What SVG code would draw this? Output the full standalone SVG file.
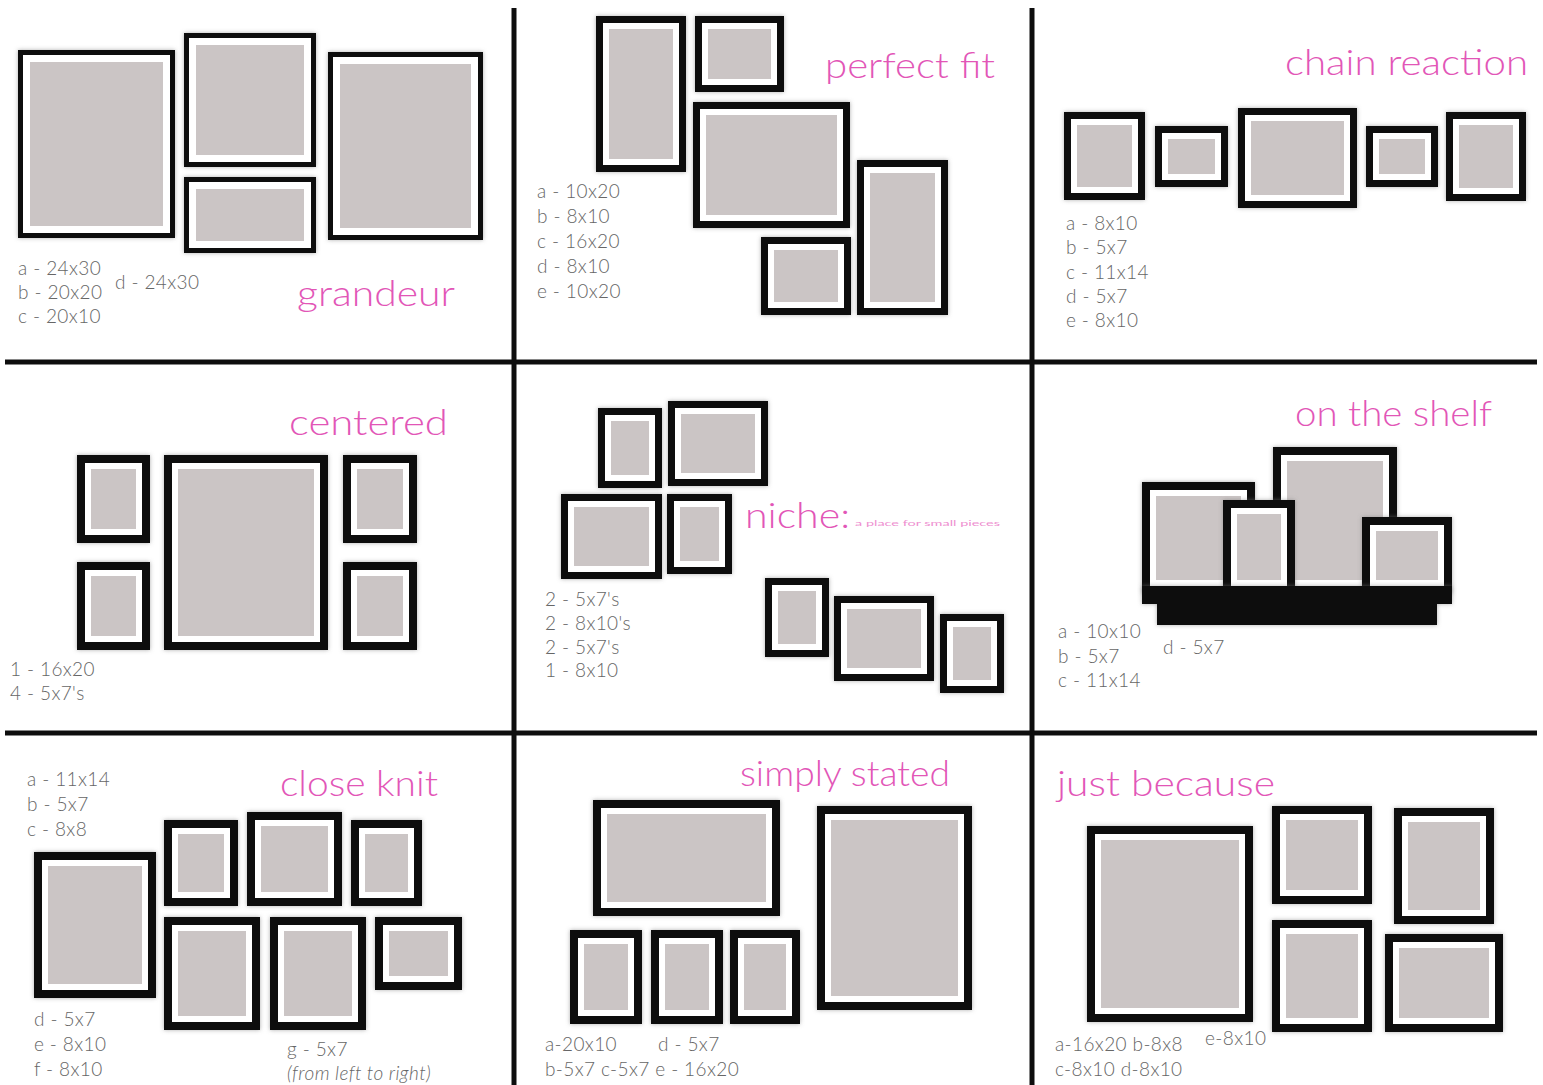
<svg xmlns="http://www.w3.org/2000/svg" width="1543" height="1085" viewBox="0 0 1543 1085">
<defs>
<filter id="sh" x="-10%" y="-10%" width="120%" height="120%"><feDropShadow dx="0" dy="0" stdDeviation="2" flood-color="#777" flood-opacity="0.6"/></filter>
<style>
.k{fill:#0e0e0e;filter:url(#sh)}
.w{fill:#fff}
.p{fill:#cbc5c5}
.ln{stroke:#0e0e0e;stroke-width:5}
.lb{font-family:Lato,"Open Sans",sans-serif;font-size:19px;font-weight:300;fill:#666;letter-spacing:0.4px}
.tt{font-family:Lato,"Open Sans",sans-serif;font-size:36px;font-weight:300;fill:#e256b7}
.sm{font-family:Lato,"Open Sans",sans-serif;font-size:8px;fill:#ee8fd0}
</style>
</defs>
<rect width="1543" height="1085" fill="#fff"/>
<g id="grid">
<line class="ln" x1="514" y1="8" x2="514" y2="1085"/>
<line class="ln" x1="1032" y1="8" x2="1032" y2="1085"/>
<line class="ln" x1="5" y1="362" x2="1537" y2="362"/>
<line class="ln" x1="5" y1="733" x2="1537" y2="733"/>
</g>
<g id="grandeur">
<rect class="k" x="18" y="50" width="157" height="188"/><rect class="w" x="23" y="55" width="147" height="178"/><rect class="p" x="30" y="62" width="133" height="164"/>
<rect class="k" x="184" y="33" width="132" height="134"/><rect class="w" x="189" y="38" width="122" height="124"/><rect class="p" x="196" y="45" width="108" height="110"/>
<rect class="k" x="184" y="177" width="132" height="76"/><rect class="w" x="189" y="182" width="122" height="66"/><rect class="p" x="196" y="189" width="108" height="52"/>
<rect class="k" x="328" y="52" width="155" height="188"/><rect class="w" x="333" y="57" width="145" height="178"/><rect class="p" x="340" y="64" width="131" height="164"/>
<text class="lb" x="18" y="275">a - 24x30</text>
<text class="lb" x="18" y="299">b - 20x20</text>
<text class="lb" x="18" y="323">c - 20x10</text>
<text class="lb" x="115" y="289">d - 24x30</text>
<text class="tt" x="297" y="306" textLength="158" lengthAdjust="spacingAndGlyphs">grandeur</text>
</g>
<g id="perfect-fit">
<rect class="k" x="596" y="16" width="90" height="156"/><rect class="w" x="603" y="23" width="76" height="142"/><rect class="p" x="609" y="29" width="64" height="130"/>
<rect class="k" x="695" y="16" width="89" height="76"/><rect class="w" x="702" y="23" width="75" height="62"/><rect class="p" x="708" y="29" width="63" height="50"/>
<rect class="k" x="693" y="102" width="157" height="126"/><rect class="w" x="700" y="109" width="143" height="112"/><rect class="p" x="706" y="115" width="131" height="100"/>
<rect class="k" x="761" y="237" width="90" height="78"/><rect class="w" x="768" y="244" width="76" height="64"/><rect class="p" x="774" y="250" width="64" height="52"/>
<rect class="k" x="857" y="160" width="91" height="155"/><rect class="w" x="864" y="167" width="77" height="141"/><rect class="p" x="870" y="173" width="65" height="129"/>
<text class="lb" x="537" y="198">a - 10x20</text>
<text class="lb" x="537" y="223">b - 8x10</text>
<text class="lb" x="537" y="248">c - 16x20</text>
<text class="lb" x="537" y="273">d - 8x10</text>
<text class="lb" x="537" y="298">e - 10x20</text>
<text class="tt" x="825" y="78" textLength="170" lengthAdjust="spacingAndGlyphs">perfect fit</text>
</g>
<g id="chain-reaction">
<rect class="k" x="1064" y="112" width="81" height="88"/><rect class="w" x="1071" y="119" width="67" height="74"/><rect class="p" x="1077" y="125" width="55" height="62"/>
<rect class="k" x="1155" y="126" width="73" height="61"/><rect class="w" x="1162" y="133" width="59" height="47"/><rect class="p" x="1168" y="139" width="47" height="35"/>
<rect class="k" x="1238" y="108" width="119" height="100"/><rect class="w" x="1245" y="115" width="105" height="86"/><rect class="p" x="1251" y="121" width="93" height="74"/>
<rect class="k" x="1366" y="126" width="72" height="61"/><rect class="w" x="1373" y="133" width="58" height="47"/><rect class="p" x="1379" y="139" width="46" height="35"/>
<rect class="k" x="1446" y="112" width="80" height="89"/><rect class="w" x="1453" y="119" width="66" height="75"/><rect class="p" x="1459" y="125" width="54" height="63"/>
<text class="lb" x="1066" y="230">a - 8x10</text>
<text class="lb" x="1066" y="254">b - 5x7</text>
<text class="lb" x="1066" y="279">c - 11x14</text>
<text class="lb" x="1066" y="303">d - 5x7</text>
<text class="lb" x="1066" y="327">e - 8x10</text>
<text class="tt" x="1285" y="75" textLength="243" lengthAdjust="spacingAndGlyphs">chain reaction</text>
</g>
<g id="centered">
<rect class="k" x="77" y="455" width="73" height="88"/><rect class="w" x="85" y="463" width="57" height="72"/><rect class="p" x="91" y="469" width="45" height="60"/>
<rect class="k" x="77" y="562" width="73" height="88"/><rect class="w" x="85" y="570" width="57" height="72"/><rect class="p" x="91" y="576" width="45" height="60"/>
<rect class="k" x="164" y="455" width="164" height="195"/><rect class="w" x="172" y="463" width="148" height="179"/><rect class="p" x="178" y="469" width="136" height="167"/>
<rect class="k" x="343" y="455" width="74" height="88"/><rect class="w" x="351" y="463" width="58" height="72"/><rect class="p" x="357" y="469" width="46" height="60"/>
<rect class="k" x="343" y="562" width="74" height="88"/><rect class="w" x="351" y="570" width="58" height="72"/><rect class="p" x="357" y="576" width="46" height="60"/>
<text class="lb" x="10" y="676">1 - 16x20</text>
<text class="lb" x="10" y="700">4 - 5x7's</text>
<text class="tt" x="289" y="435" textLength="159" lengthAdjust="spacingAndGlyphs">centered</text>
</g>
<g id="niche">
<rect class="k" x="598" y="408" width="64" height="80"/><rect class="w" x="605" y="415" width="50" height="66"/><rect class="p" x="611" y="421" width="38" height="54"/>
<rect class="k" x="668" y="401" width="100" height="85"/><rect class="w" x="675" y="408" width="86" height="71"/><rect class="p" x="681" y="414" width="74" height="59"/>
<rect class="k" x="561" y="494" width="101" height="85"/><rect class="w" x="568" y="501" width="87" height="71"/><rect class="p" x="574" y="507" width="75" height="59"/>
<rect class="k" x="667" y="494" width="65" height="80"/><rect class="w" x="674" y="501" width="51" height="66"/><rect class="p" x="680" y="507" width="39" height="54"/>
<rect class="k" x="765" y="578" width="64" height="79"/><rect class="w" x="772" y="585" width="50" height="65"/><rect class="p" x="778" y="591" width="38" height="53"/>
<rect class="k" x="834" y="596" width="100" height="85"/><rect class="w" x="841" y="603" width="86" height="71"/><rect class="p" x="847" y="609" width="74" height="59"/>
<rect class="k" x="940" y="614" width="64" height="79"/><rect class="w" x="947" y="621" width="50" height="65"/><rect class="p" x="953" y="627" width="38" height="53"/>
<text class="lb" x="545" y="606">2 - 5x7's</text>
<text class="lb" x="545" y="630">2 - 8x10's</text>
<text class="lb" x="545" y="654">2 - 5x7's</text>
<text class="lb" x="545" y="677">1 - 8x10</text>
<text class="tt" x="745" y="528" textLength="105" lengthAdjust="spacingAndGlyphs">niche:</text>
<text class="sm" x="855" y="526" textLength="145" lengthAdjust="spacingAndGlyphs">a place for small pieces</text>
</g>
<g id="on-the-shelf">
<rect class="k" x="1142" y="482" width="113" height="112"/><rect class="w" x="1150" y="490" width="97" height="96"/><rect class="p" x="1156" y="496" width="85" height="84"/>
<rect class="k" x="1273" y="447" width="124" height="147"/><rect class="w" x="1281" y="455" width="108" height="131"/><rect class="p" x="1287" y="461" width="96" height="119"/>
<rect class="k" x="1223" y="500" width="72" height="94"/><rect class="w" x="1231" y="508" width="56" height="78"/><rect class="p" x="1237" y="514" width="44" height="66"/>
<rect class="k" x="1362" y="517" width="90" height="77"/><rect class="w" x="1370" y="525" width="74" height="61"/><rect class="p" x="1376" y="531" width="62" height="49"/>
<path class="k" d="M1142,586 H1452 V604 H1437 V625 H1157 V604 H1142 Z"/>
<text class="lb" x="1058" y="638">a - 10x10</text>
<text class="lb" x="1058" y="663">b - 5x7</text>
<text class="lb" x="1058" y="687">c - 11x14</text>
<text class="lb" x="1163" y="654">d - 5x7</text>
<text class="tt" x="1295" y="426" textLength="197" lengthAdjust="spacingAndGlyphs">on the shelf</text>
</g>
<g id="close-knit">
<rect class="k" x="34" y="852" width="122" height="146"/><rect class="w" x="42" y="860" width="106" height="130"/><rect class="p" x="48" y="866" width="94" height="118"/>
<rect class="k" x="164" y="820" width="74" height="86"/><rect class="w" x="172" y="828" width="58" height="70"/><rect class="p" x="178" y="834" width="46" height="58"/>
<rect class="k" x="247" y="812" width="95" height="94"/><rect class="w" x="255" y="820" width="79" height="78"/><rect class="p" x="261" y="826" width="67" height="66"/>
<rect class="k" x="351" y="820" width="71" height="86"/><rect class="w" x="359" y="828" width="55" height="70"/><rect class="p" x="365" y="834" width="43" height="58"/>
<rect class="k" x="164" y="917" width="96" height="113"/><rect class="w" x="172" y="925" width="80" height="97"/><rect class="p" x="178" y="931" width="68" height="85"/>
<rect class="k" x="270" y="917" width="96" height="113"/><rect class="w" x="278" y="925" width="80" height="97"/><rect class="p" x="284" y="931" width="68" height="85"/>
<rect class="k" x="375" y="917" width="87" height="73"/><rect class="w" x="383" y="925" width="71" height="57"/><rect class="p" x="389" y="931" width="59" height="45"/>
<text class="lb" x="27" y="786">a - 11x14</text>
<text class="lb" x="27" y="811">b - 5x7</text>
<text class="lb" x="27" y="836">c - 8x8</text>
<text class="lb" x="34" y="1026">d - 5x7</text>
<text class="lb" x="34" y="1051">e - 8x10</text>
<text class="lb" x="34" y="1076">f - 8x10</text>
<text class="lb" x="287" y="1056">g - 5x7</text>
<text class="lb" x="287" y="1080" font-style="italic">(from left to right)</text>
<text class="tt" x="280" y="796" textLength="158" lengthAdjust="spacingAndGlyphs">close knit</text>
</g>
<g id="simply-stated">
<rect class="k" x="593" y="800" width="187" height="116"/><rect class="w" x="601" y="808" width="171" height="100"/><rect class="p" x="607" y="814" width="159" height="88"/>
<rect class="k" x="817" y="806" width="155" height="204"/><rect class="w" x="825" y="814" width="139" height="188"/><rect class="p" x="831" y="820" width="127" height="176"/>
<rect class="k" x="570" y="930" width="72" height="94"/><rect class="w" x="578" y="938" width="56" height="78"/><rect class="p" x="584" y="944" width="44" height="66"/>
<rect class="k" x="651" y="930" width="72" height="94"/><rect class="w" x="659" y="938" width="56" height="78"/><rect class="p" x="665" y="944" width="44" height="66"/>
<rect class="k" x="730" y="930" width="70" height="94"/><rect class="w" x="738" y="938" width="54" height="78"/><rect class="p" x="744" y="944" width="42" height="66"/>
<text class="lb" x="545" y="1051">a-20x10</text>
<text class="lb" x="658" y="1051">d - 5x7</text>
<text class="lb" x="545" y="1076">b-5x7 c-5x7 e - 16x20</text>
<text class="tt" x="740" y="786" textLength="210" lengthAdjust="spacingAndGlyphs">simply stated</text>
</g>
<g id="just-because">
<rect class="k" x="1087" y="826" width="166" height="196"/><rect class="w" x="1095" y="834" width="150" height="180"/><rect class="p" x="1101" y="840" width="138" height="168"/>
<rect class="k" x="1272" y="806" width="100" height="98"/><rect class="w" x="1280" y="814" width="84" height="82"/><rect class="p" x="1286" y="820" width="72" height="70"/>
<rect class="k" x="1394" y="808" width="100" height="116"/><rect class="w" x="1402" y="816" width="84" height="100"/><rect class="p" x="1408" y="822" width="72" height="88"/>
<rect class="k" x="1272" y="920" width="100" height="112"/><rect class="w" x="1280" y="928" width="84" height="96"/><rect class="p" x="1286" y="934" width="72" height="84"/>
<rect class="k" x="1385" y="934" width="118" height="98"/><rect class="w" x="1393" y="942" width="102" height="82"/><rect class="p" x="1399" y="948" width="90" height="70"/>
<text class="lb" x="1055" y="1051">a-16x20 b-8x8</text>
<text class="lb" x="1205" y="1045">e-8x10</text>
<text class="lb" x="1055" y="1076">c-8x10  d-8x10</text>
<text class="tt" x="1057" y="796" textLength="218" lengthAdjust="spacingAndGlyphs">just because</text>
</g>
</svg>
